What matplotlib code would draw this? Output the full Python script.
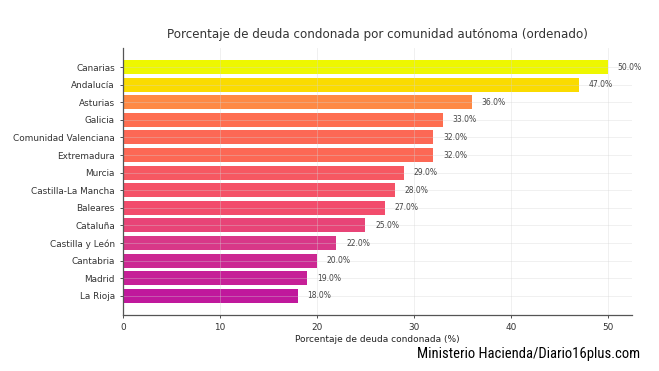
import numpy as np
import matplotlib
matplotlib.use("Agg")
import matplotlib.pyplot as plt
from matplotlib.colors import LinearSegmentedColormap, Normalize

# ======================
# DATA
# ======================
regions = [
    "Canarias", "Andalucía", "Asturias", "Galicia", "Comunidad Valenciana",
    "Extremadura", "Murcia", "Castilla-La Mancha", "Baleares", "Cataluña",
    "Castilla y León", "Cantabria", "Madrid", "La Rioja",
]
pct = [50, 47, 36, 33, 32, 32, 29, 28, 27, 25, 22, 20, 19, 18]

title = "Porcentaje de deuda condonada por comunidad autónoma (ordenado)"
xlabel = "Porcentaje de deuda condonada (%)"
source = "Ministerio Hacienda/Diario16plus.com"

# colour ramp (low -> high)
ramp = [(0.0, "#c0189c"), (0.125, "#d83888"), (0.28, "#f24c6c"),
        (0.47, "#fe6e50"), (0.5625, "#fe8844"), (0.906, "#fada00"),
        (1.0, "#eef700")]

# ======================
# PLOT
# ======================
vals = np.array(pct, dtype=float)
cmap = LinearSegmentedColormap.from_list("ramp", ramp)
colors = cmap(Normalize(vals.min(), vals.max())(vals))

fig = plt.figure(figsize=(6.59, 3.71), dpi=100)
ax = fig.add_axes([0.187, 0.151, 0.772, 0.72])

ypos = np.arange(len(regions))
ax.barh(ypos, vals, color=colors, height=0.8, zorder=1)
ax.set_yticks(ypos)
ax.set_yticklabels(regions)
ax.invert_yaxis()

for y, v in zip(ypos, vals):
    ax.text(v + 1, y, f"{v:.1f}%", va="center", ha="left",
            fontsize=5.5, color="#444444", zorder=4)

# grid sits over the bars, very light
ax.set_axisbelow(False)
ax.grid(True, color="#d4d4d4", linewidth=0.6, alpha=0.4)
for side in ["top", "right"]:
    ax.spines[side].set_visible(False)
for side in ["left", "bottom"]:
    ax.spines[side].set_color("#555555")
    ax.spines[side].set_linewidth(0.9)
    ax.spines[side].set_zorder(5)

ax.tick_params(axis="both", labelsize=6.4, colors="#333333", length=2.5, width=0.6)
ax.set_xticks([0, 10, 20, 30, 40, 50])
ax.set_xlabel(xlabel, fontsize=6.5, color="#222222", labelpad=2)
ax.set_title(title, fontsize=8.6, color="#333333", pad=7)

fig.text(0.972, 0.045, source, ha="right", va="center", fontsize=10.5,
         family=["Roboto Condensed", "Liberation Sans Narrow", "Roboto"],
         stretch="condensed", color="black")

fig.savefig("out.png", dpi=100)
